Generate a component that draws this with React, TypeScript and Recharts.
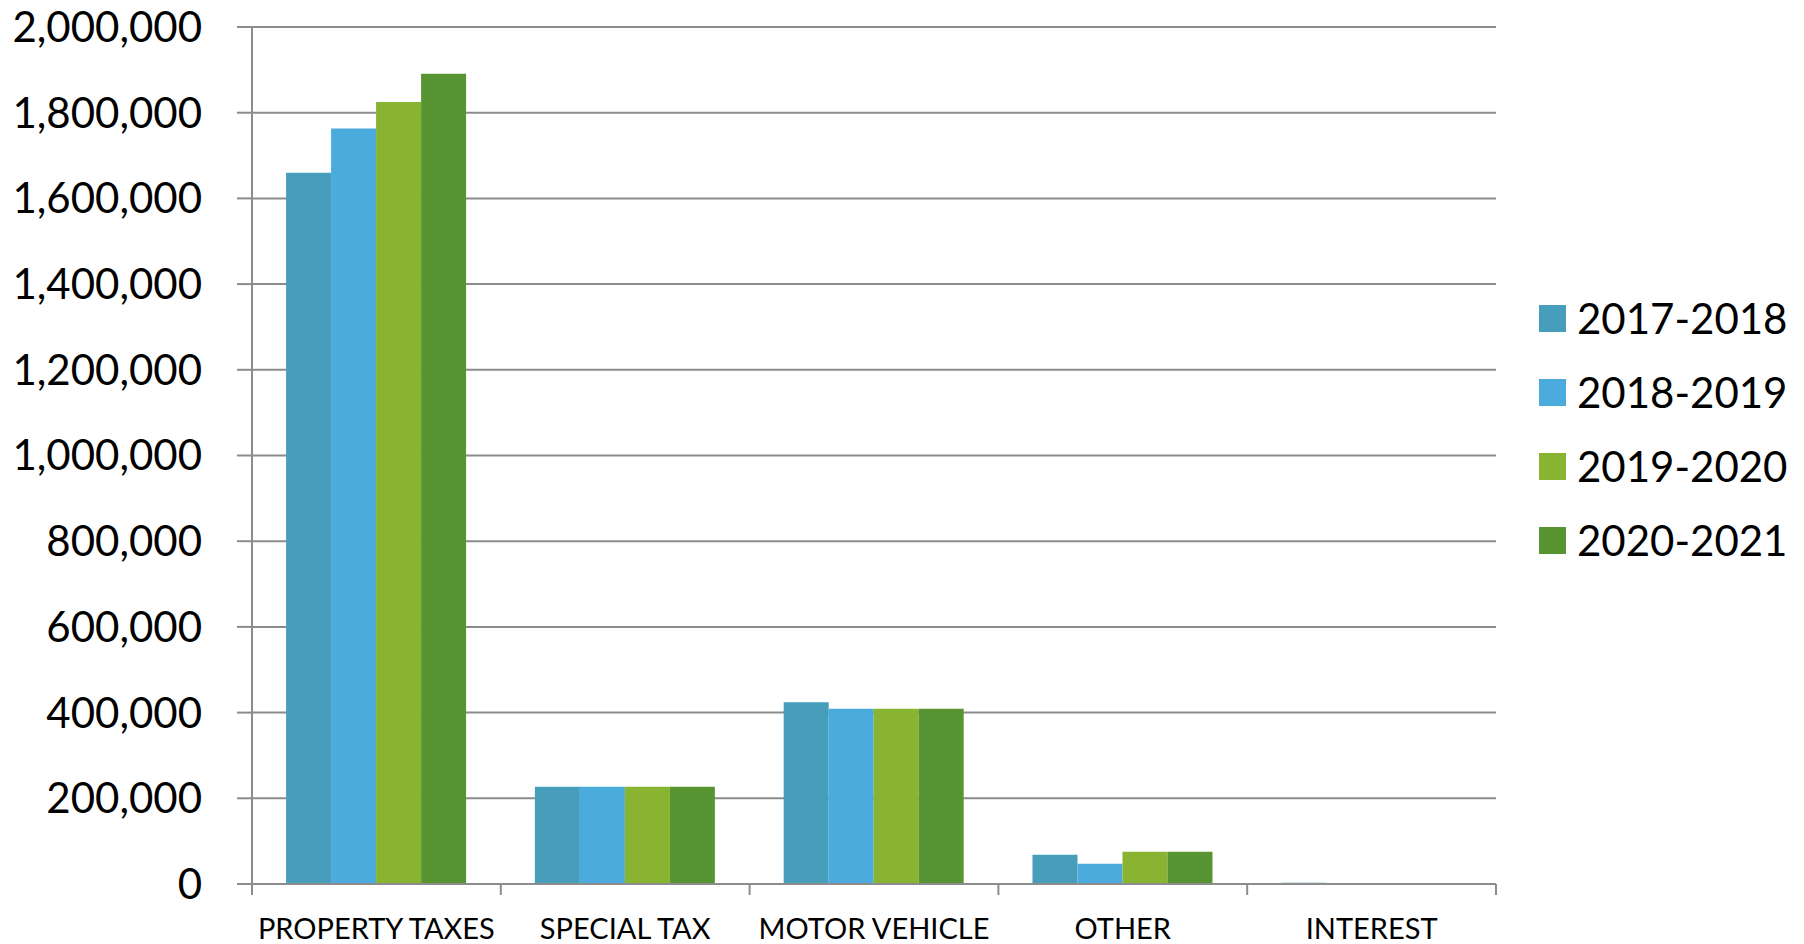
import React from 'react';
import { BarChart, Bar, XAxis, YAxis, CartesianGrid, Legend } from 'recharts';

const categories = ['PROPERTY TAXES', 'SPECIAL TAX', 'MOTOR VEHICLE', 'OTHER', 'INTEREST'];
const seriesNames = ['2017-2018', '2018-2019', '2019-2020', '2020-2021'];
const values2017 = [1660000, 227000, 424000, 68000, 3000];
const values2018 = [1763000, 227000, 409000, 47000, 2500];
const values2019 = [1825000, 227000, 409000, 75000, 2000];
const values2020 = [1891000, 227000, 409000, 75000, 2000];
const yTicks = [0, 200000, 400000, 600000, 800000, 1000000, 1200000, 1400000, 1600000, 1800000, 2000000];
const colors = ['#469EBA', '#4AABDC', '#88B432', '#589432'];

const seriesValues = [values2017, values2018, values2019, values2020];
const data = categories.map((c, i) => {
  const row: Record<string, string | number> = { name: c };
  seriesNames.forEach((s, j) => {
    row[s] = seriesValues[j][i];
  });
  return row;
});

const GRID = '#8C8C8C';
const FONT = 'Lato';
const X_TICK_MARGIN = 34;
const X_TICK_LEN = 11;

const fmt = (v: number) => v.toLocaleString('en-US');

const CategoryTick = (props: any) => {
  const { x, y, payload, width, visibleTicksCount, index } = props;
  const count = visibleTicksCount || categories.length;
  const half = width / count / 2;
  const axisY = y - X_TICK_MARGIN;
  const isLast = index === count - 1;
  return (
    <g>
      <line x1={x - half} x2={x - half} y1={axisY} y2={axisY + X_TICK_LEN} stroke={GRID} strokeWidth={2} />
      {isLast && (
        <line x1={x + half} x2={x + half} y1={axisY} y2={axisY + X_TICK_LEN} stroke={GRID} strokeWidth={2} />
      )}
      <text x={x} y={y} dy="0.71em" textAnchor="middle" fill="#000" fontSize={29} fontFamily={FONT}>
        {payload.value}
      </text>
    </g>
  );
};

const LegendContent = (props: any) => {
  const payload = props.payload || [];
  return (
    <div style={{ fontFamily: FONT }}>
      {payload.map((p: any) => (
        <div key={p.value} style={{ display: 'flex', alignItems: 'center', height: 74 }}>
          <div style={{ width: 27, height: 27, background: p.color }} />
          <span style={{ marginLeft: 11, fontSize: 42, color: '#000', lineHeight: 1 }}>{p.value}</span>
        </div>
      ))}
    </div>
  );
};

export default function App() {
  return (
    <div style={{ position: 'absolute', left: 0, top: 0, width: 1804, height: 944, background: '#fff', fontFamily: FONT }}>
      <BarChart
        width={1804}
        height={944}
        data={data}
        margin={{ top: 27, right: 308, bottom: 0, left: 0 }}
        barCategoryGap="13.7%"
        barGap={0}
      >
        <CartesianGrid vertical={false} stroke={GRID} strokeWidth={2} xAxisId="b" yAxisId="y" />
        <XAxis
          xAxisId="b"
          dataKey="name"
          height={60}
          interval={0}
          tickLine={false}
          tickSize={0}
          tickMargin={X_TICK_MARGIN}
          axisLine={{ stroke: GRID, strokeWidth: 2 }}
          tick={<CategoryTick />}
        />
        <YAxis
          yAxisId="y"
          width={252}
          domain={[0, 2000000]}
          ticks={yTicks}
          tickFormatter={fmt}
          tickSize={15}
          tickMargin={35}
          axisLine={{ stroke: GRID, strokeWidth: 2 }}
          tickLine={{ stroke: GRID, strokeWidth: 2 }}
          tick={{ fill: '#000', fontSize: 42, fontFamily: FONT }}
          interval={0}
        />
        <Legend
          layout="vertical"
          verticalAlign="middle"
          align="center"
          content={<LegendContent />}
          wrapperStyle={{ left: 1539, top: 281, width: 265, right: 'auto', bottom: 'auto' }}
        />
        {seriesNames.map((s, j) => (
          <Bar key={s} dataKey={s} xAxisId="b" yAxisId="y" fill={colors[j]} isAnimationActive={false} />
        ))}
      </BarChart>
    </div>
  );
}
